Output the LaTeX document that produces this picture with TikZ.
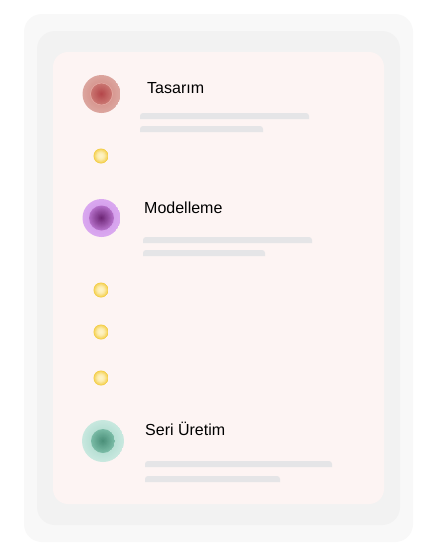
\documentclass[tikz,border=0pt]{standalone}
\usepackage{fontspec}
\setmainfont{Liberation Sans}
\definecolor{frameA}{HTML}{F8F8F8}
\definecolor{frameB}{HTML}{F2F2F2}
\definecolor{panel}{HTML}{FDF4F3}
\definecolor{barc}{HTML}{E5E5E7}
\definecolor{redOE}{HTML}{DCA59E}
\definecolor{redOI}{HTML}{D08680}
\definecolor{redI}{HTML}{B5474B}
\definecolor{redE}{HTML}{CB7873}
\definecolor{redR}{HTML}{E6AAA4}
\definecolor{purOE}{HTML}{DAA8F0}
\definecolor{purOI}{HTML}{CE94E6}
\definecolor{purI}{HTML}{6E2776}
\definecolor{purE}{HTML}{B46FC9}
\definecolor{grnOE}{HTML}{C8E8DF}
\definecolor{grnOI}{HTML}{A3D5C6}
\definecolor{grnI}{HTML}{4B9079}
\definecolor{grnE}{HTML}{7ABBA6}
\definecolor{yelI}{HTML}{FEF3C4}
\definecolor{yelO}{HTML}{F3CC40}
\tikzset{
  x=1pt, y=-1pt,
  label/.style={anchor=base west, inner sep=0pt, font=\fontsize{16}{18}\selectfont, text=black},
  % gradball={radius}{inner colour}{outer colour}{exponent}
  gradball/.style n args={4}{circle, inner sep=0pt, minimum size=2*#1 pt,
    path picture={\foreach \k in {0,...,14}{
        \pgfmathsetmacro\rr{#1*(1-\k/15)}
        \pgfmathsetmacro\pp{100*(1-\k/14)^#4}
        \fill[#3!\pp!#2] (path picture bounding box.center) circle (\rr pt);}}},
  dotnode/.style={gradball={7.5}{yelI}{yelO}{2.2}},
  bar/.style={fill=barc},
}
\newcommand{\topbar}[4]{\fill[bar] (#1,#4) [rounded corners=3pt]-- (#1,#3) -- (#2,#3) [sharp corners]-- (#2,#4) -- cycle;}
\begin{document}
\begin{tikzpicture}
\useasboundingbox (0,0) rectangle (437,557);
\fill[white] (0,0) rectangle (437,557);
% frames
\node[draw=none, fill=frameA, rounded corners=18pt, minimum width=389pt, minimum height=528pt, inner sep=0pt] (outer) at (218.5,278) {};
\node[draw=none, fill=frameB, rounded corners=18pt, minimum width=363pt, minimum height=494pt, inner sep=0pt] (mid) at (218.5,278) {};
\node[draw=none, fill=panel, rounded corners=15pt, minimum width=331pt, minimum height=452pt, inner sep=0pt] (pane) at (218.5,278) {};
% Tasarim
\node[gradball={19}{redOI}{redOE}{1}] (c1) at (101.5,94) {};
\node[gradball={11}{redI}{redE}{1}, draw=redR, line width=0.6pt] (c1i) at (c1) {};
\node[label] (t1) at (147,93) {Tasarım};
\topbar{140}{309}{113}{119}
\topbar{140}{263}{126}{132}
% dot
\node[dotnode] (d1) at (101,156) {};
% Modelleme
\node[gradball={19}{purOI}{purOE}{1}] (c2) at (101.5,218) {};
\node[gradball={12.5}{purI}{purE}{1}] (c2i) at (c2) {};
\node[label] (t2) at (144,213) {Modelleme};
\topbar{143}{312}{237}{243}
\topbar{143}{265}{250}{256}
% dots
\node[dotnode] (d2) at (101,290) {};
\node[dotnode] (d3) at (101,332) {};
\node[dotnode] (d4) at (101,378) {};
% Seri Uretim
\node[gradball={21}{grnOI}{grnOE}{1}] (c3) at (103,441) {};
\node[gradball={12}{grnI}{grnE}{1}] (c3i) at (c3) {};
\node[label] (t3) at (145,435) {Seri Üretim};
\topbar{145}{332}{461}{467}
\topbar{145}{280}{476}{482}
\end{tikzpicture}
\end{document}
